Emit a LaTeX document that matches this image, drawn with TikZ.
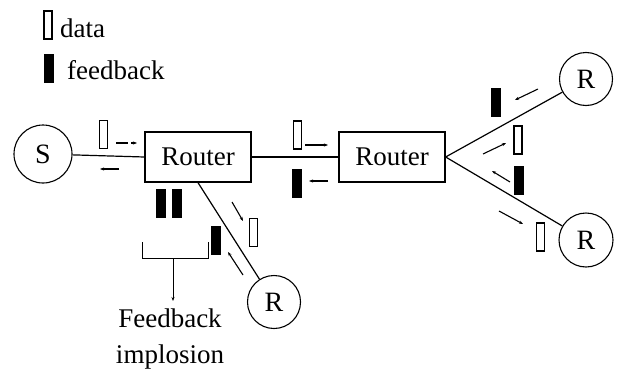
\documentclass[tikz,border=0pt]{standalone}
\usepackage{fontspec}
\setmainfont{Liberation Serif}
\usetikzlibrary{arrows.meta}
\begin{document}
\begin{tikzpicture}[x=1pt,y=-1pt,
  every node/.style={font=\fontsize{27}{36}\selectfont},
  hostnode/.style={draw,circle,line width=1.1pt,inner sep=0pt,font=\fontsize{28}{36}\selectfont},
  routerbox/.style={draw,rectangle,line width=1.3pt,minimum width=106pt,minimum height=50pt,inner sep=0pt},
  link/.style={line width=1.2pt},
  datapkt/.style={draw,rectangle,line width=1.2pt,fill=white,minimum width=8pt,minimum height=28pt,inner sep=0pt},
  fbpkt/.style={draw,rectangle,line width=0.8pt,fill=black,minimum width=9pt,minimum height=28pt,inner sep=0pt},
  flow/.style={line width=1.1pt,-{Stealth[length=4pt,width=3pt]}},
]
\useasboundingbox (0,0) rectangle (620,380);

% legend
\node[datapkt] (legdata) at (48,25) {};
\node[anchor=base west,inner sep=0pt] (legdatatxt) at (60,37) {data};
\node[fbpkt] (legfb) at (49,68.5) {};
\node[anchor=base west,inner sep=0pt] (legfbtxt) at (67,79) {feedback};

% hosts and routers
\node[hostnode,minimum size=58pt] (S) at (43,154) {S};
\node[routerbox] (R1) at (198,157) {Router};
\node[routerbox] (R2) at (392,157) {Router};
\node[hostnode,minimum size=53pt] (Ra) at (586,79) {R};
\node[hostnode,minimum size=54pt] (Rb) at (586,240) {R};
\node[hostnode,minimum size=53pt] (Rc) at (274,302) {R};

% links
\draw[link] (S) -- (R1.west);
\draw[link] (R1.east) -- (R2.west);
\draw[link] (R2.east) -- (Ra);
\draw[link] (R2.east) -- (Rb);
\draw[link] (R1.south) -- (Rc);

% packets between S and the first router
\node[datapkt] (p1) at (103.5,134.5) {};
\draw[flow,dash pattern=on 12pt off 3pt] (116,143) -- (137,143);
\draw[flow] (119,169) -- (100,169);

% packets between the routers
\node[datapkt] (p2) at (297.5,135) {};
\draw[flow] (305,145) -- (328,145);
\node[fbpkt] (p3) at (297,183.5) {};
\draw[flow] (328,181) -- (309,181);

% upper right branch
\node[fbpkt] (p4) at (495.5,102.5) {};
\draw[flow] (538,89) -- (515,100);
\node[datapkt] (p5) at (518,140) {};
\draw[flow] (483,154) -- (506,143);

% lower right branch
\node[fbpkt] (p6) at (518.5,180) {};
\draw[flow] (510,182) -- (492,171);
\node[datapkt] (p7) at (540.5,237) {};
\draw[flow] (499,211) -- (523,224);

% branch from the first router down to a receiver
\node[datapkt] (p8) at (253.5,232.5) {};
\draw[flow] (232,202) -- (243,221);
\node[fbpkt] (p9) at (215.5,240) {};
\draw[flow] (243,275) -- (228,252);

% feedback packets converging on the first router
\node[fbpkt] (f1) at (161,203) {};
\node[fbpkt] (f2) at (176.5,203) {};

% bracket and label
\draw[line width=1pt] (142,242) -- (142,258) -- (208,258) -- (208,242);
\coordinate (brk) at (173,258);
\node[align=center,anchor=north,inner sep=0pt] (FB) at (170,309) {Feedback\\implosion};
\draw[line width=1pt,-{Stealth[length=4pt,width=3pt]}] (brk) -- (brk |- 0,301);
\end{tikzpicture}
\end{document}
